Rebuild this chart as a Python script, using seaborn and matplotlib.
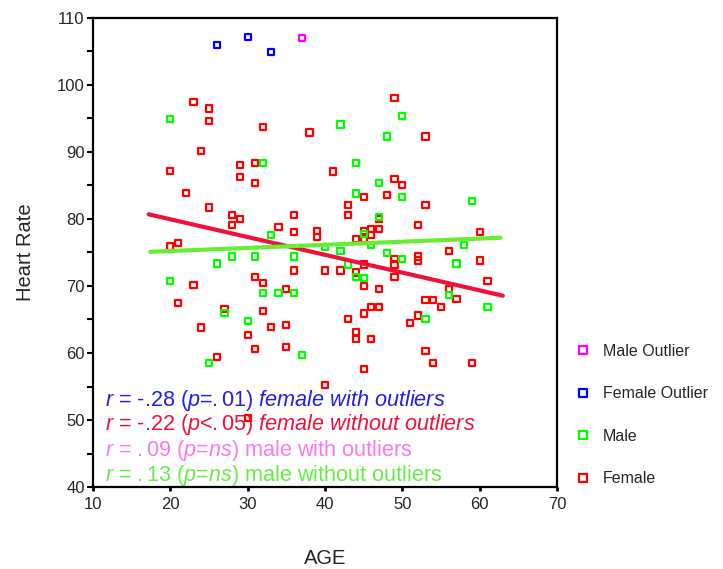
import numpy as np
import pandas as pd
import matplotlib
matplotlib.use("Agg")
import matplotlib.pyplot as plt
import seaborn as sns
from matplotlib.lines import Line2D

# female (red) points
female_age = [23, 25, 25, 32, 38, 49, 53, 24, 29, 31, 20, 29, 31, 41, 49, 50,
              22, 45, 48, 43, 53, 25, 28, 29, 28, 36, 43, 47, 34, 52, 36, 39,
              39, 45, 46, 47, 46, 44, 45, 60, 21, 20, 56, 49, 49, 52, 52, 60,
              45, 36, 40, 42, 44, 31, 32, 23, 49, 61, 35, 45, 47, 56, 57, 53,
              54, 21, 27, 32, 55, 46, 47, 45, 52, 43, 51, 24, 33, 35, 30, 44,
              44, 46, 31, 35, 53, 26, 54, 59, 45, 40, 30]
female_hr = [97.5, 96.5, 94.6, 93.7, 92.9, 98.0, 92.3, 90.2, 88.1, 88.4, 87.2,
             86.3, 85.4, 87.1, 86.0, 85.1, 83.9, 83.3, 83.6, 82.1, 82.1, 81.7,
             80.6, 80.0, 79.15, 80.6, 80.6, 80.0, 78.85, 79.15, 78.0, 78.25,
             77.35, 78.25, 78.55, 78.55, 77.65, 77.05, 77.05, 78.0, 76.45,
             75.9, 75.25, 74.05, 73.2, 74.4, 73.8, 73.8, 73.2, 72.3, 72.3,
             72.3, 72.0, 71.4, 70.5, 70.15, 71.4, 70.7, 69.6, 70.05, 69.6,
             69.6, 68.1, 67.95, 67.95, 67.5, 66.6, 66.25, 66.9, 66.9, 66.9,
             65.9, 65.6, 65.1, 64.5, 63.8, 63.9, 64.2, 62.7, 63.1, 62.1, 62.1,
             60.6, 60.9, 60.3, 59.4, 58.55, 58.55, 57.65, 55.2, 50.35]

# male (green) points
male_age = [20, 32, 42, 50, 48, 44, 47, 44, 50, 59, 47, 45, 33, 46, 58, 40,
            42, 48, 50, 57, 43, 26, 28, 31, 36, 44, 45, 20, 32, 34, 36, 56,
            61, 27, 53, 30, 37, 25]
male_hr = [94.9, 88.4, 94.1, 95.4, 92.3, 88.4, 85.4, 83.8, 83.3, 82.7, 80.35,
           77.75, 77.65, 76.15, 76.15, 75.85, 75.25, 74.95, 74.05, 73.35, 73.2,
           73.35, 74.4, 74.4, 74.4, 71.4, 71.2, 70.8, 68.95, 68.95, 68.95,
           68.65, 66.9, 66.0, 65.1, 64.8, 59.7, 58.5]

# outliers
female_out_age = [26, 30, 33]
female_out_hr = [106.0, 107.2, 104.9]
male_out_age = [37]
male_out_hr = [107.05]

# fitted lines
fit_age = [17.2, 63.0]
female_fit_hr = [80.7, 68.55]
male_fit_age = [17.4, 62.7]
male_fit_hr = [75.1, 77.2]

RED = "#ff0000"
GREEN = "#00ff00"
BLUE = "#0000ff"
MAGENTA = "#ff00ff"

sns.set_theme(style="white")
plt.rcParams["font.family"] = ["Liberation Sans", "DejaVu Sans"]
plt.rcParams["mathtext.fontset"] = "custom"
plt.rcParams["mathtext.rm"] = "Liberation Sans"
plt.rcParams["mathtext.it"] = "Liberation Sans:italic"

fig = plt.figure(figsize=(7.23, 5.69), dpi=100)
ax = fig.add_axes([0.1286, 0.1441, 0.6418, 0.8243])

groups = [(female_age, female_hr, RED), (male_age, male_hr, GREEN),
          (female_out_age, female_out_hr, BLUE), (male_out_age, male_out_hr, MAGENTA)]
for xs, ys, c in groups:
    df = pd.DataFrame({"AGE": xs, "HR": ys})
    sns.scatterplot(data=df, x="AGE", y="HR", ax=ax, marker="s", s=20,
                    facecolor="none", edgecolor=c, linewidth=1.6, zorder=3)

sns.lineplot(x=fit_age, y=female_fit_hr, ax=ax, color="#f0103c", linewidth=3, zorder=4)
sns.lineplot(x=male_fit_age, y=male_fit_hr, ax=ax, color="#66ee33", linewidth=3, zorder=4)

ax.set_xlim(10, 70)
ax.set_ylim(40, 110)
ax.set_xticks(range(10, 71, 10))
ax.set_yticks(range(40, 111, 10))
ax.set_yticks(range(45, 110, 10), minor=True)
for sp in ax.spines.values():
    sp.set_visible(True)
    sp.set_color("black")
    sp.set_linewidth(1.6)
ax.tick_params(axis="y", which="both", direction="out", left=True, length=4,
               width=1.5, color="black", labelsize=12, pad=2)
ax.tick_params(axis="x", which="major", direction="out", bottom=True, length=3,
               width=2, color="black", labelsize=12, pad=4)
ax.set_xlabel("AGE", fontsize=14.5, labelpad=27)
ax.set_ylabel("Heart Rate", fontsize=14.5, labelpad=16)

lines = [
    (r"$\mathit{r}$ = -.28 ($\mathit{p}$=$\mathit{.01)\ female\ with\ outliers}$", "#2020e8", 0.1727),
    (r"$\mathit{r}$ = -.22 ($\mathit{p}$<$\mathit{.05)\ female\ without\ outliers}$", "#f0103c", 0.1215),
    (r"$\mathit{r}$ = $\mathit{.09}$ ($\mathit{p}$=$\mathit{ns}$) male with outliers", "#ff77ee", 0.0661),
    (r"$\mathit{r}$ = $\mathit{.13}$ ($\mathit{p}$=$\mathit{ns}$) male without outliers", "#66ee44", 0.0128),
]
for txt, c, yy in lines:
    ax.text(0.026, yy, txt, transform=ax.transAxes, color=c, fontsize=15.6,
            va="baseline", ha="left", zorder=2)

handles = [Line2D([], [], marker="s", linestyle="none", markersize=5.5,
                  markerfacecolor="none", markeredgecolor=c, markeredgewidth=1.6)
           for c in [MAGENTA, BLUE, GREEN, RED]]
labels = ["Male Outlier", "Female Outlier", "Male", "Female"]
fig.legend(handles, labels, loc="upper left", bbox_to_anchor=(0.7975, 0.396),
           frameon=False, fontsize=11.5, handlelength=0.8, handletextpad=0.85,
           labelspacing=1.72, borderpad=0, borderaxespad=0)

fig.savefig("out.png", dpi=100)
